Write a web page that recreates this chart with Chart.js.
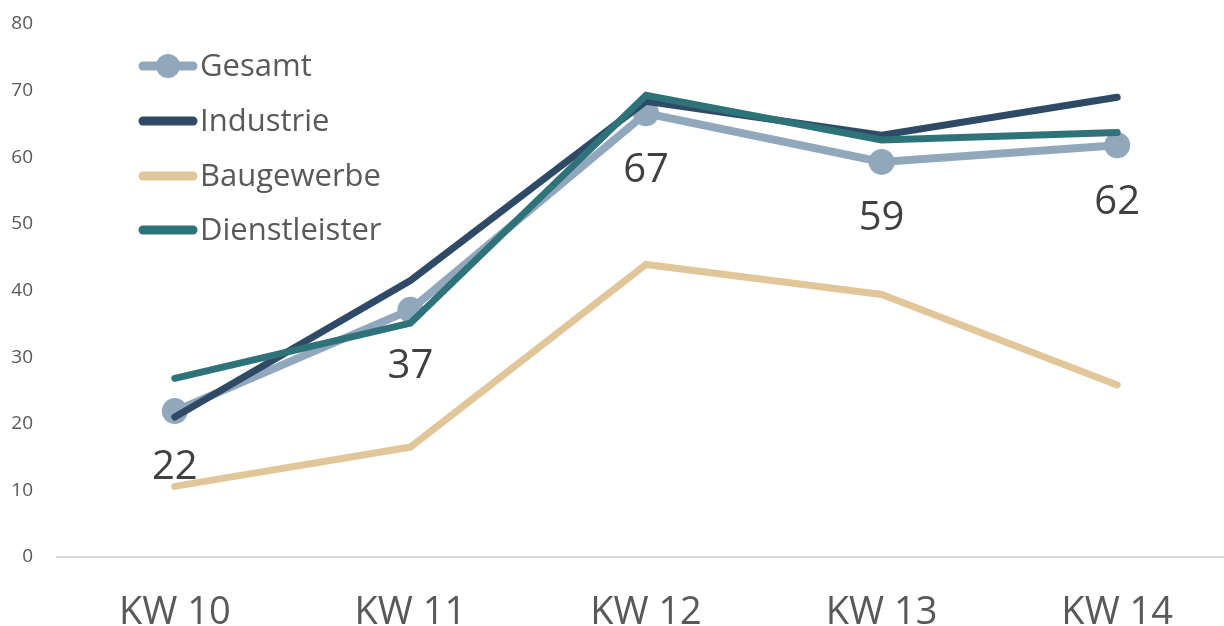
<!DOCTYPE html>
<html>
<head>
<meta charset="utf-8">
<script src="https://cdn.jsdelivr.net/npm/chart.js@4.4.0/dist/chart.umd.min.js"></script>
<style>
html,body{margin:0;padding:0;background:#fff;overflow:hidden;}
#wrap{width:1224px;height:626px;overflow:hidden;}
#c{display:block;}
</style>
</head>
<body>
<div id="wrap"><canvas id="c" width="1235" height="626"></canvas></div>
<script>
const categories = ["KW 10", "KW 11", "KW 12", "KW 13", "KW 14"];
const gesamt = [21.9, 37.1, 66.6, 59.3, 61.8];
const industrie = [21.0, 41.5, 68.4, 63.3, 69.0];
const baugewerbe = [10.6, 16.5, 43.9, 39.4, 25.8];
const dienstleister = [26.8, 35.1, 69.3, 62.6, 63.7];
const yTicks = [0, 10, 20, 30, 40, 50, 60, 70, 80];

const FONT = "'Open Sans', 'Noto Sans', sans-serif";
const colors = {
  gesamt: "#91a7bc",
  industrie: "#2e4a66",
  baugewerbe: "#e0c699",
  dienstleister: "#2f737a"
};

const legendPlugin = {
  id: "customLegend",
  afterDraw(chart) {
    const ctx = chart.ctx;
    const items = [
      { ds: 0, y: 66, marker: true },
      { ds: 1, y: 121 },
      { ds: 2, y: 176 },
      { ds: 3, y: 230 }
    ];
    ctx.save();
    items.forEach(it => {
      const d = chart.data.datasets[it.ds];
      ctx.strokeStyle = d.borderColor;
      ctx.lineWidth = 9;
      ctx.lineCap = "round";
      ctx.beginPath();
      ctx.moveTo(143, it.y);
      ctx.lineTo(193, it.y);
      ctx.stroke();
      if (it.marker) {
        ctx.fillStyle = d.borderColor;
        ctx.beginPath();
        ctx.arc(168, it.y, 12, 0, Math.PI * 2);
        ctx.fill();
      }
      ctx.fillStyle = "#595959";
      ctx.font = "31px " + FONT;
      ctx.textAlign = "left";
      ctx.textBaseline = "middle";
      ctx.fillText(d.label, 200, it.y + 1);
    });
    ctx.restore();
  }
};

const labelPlugin = {
  id: "gesamtLabels",
  afterDatasetsDraw(chart) {
    const ctx = chart.ctx;
    const meta = chart.getDatasetMeta(0);
    ctx.save();
    ctx.fillStyle = "#404040";
    ctx.font = "40px " + FONT;
    ctx.textAlign = "center";
    ctx.textBaseline = "middle";
    meta.data.forEach((pt, i) => {
      ctx.fillText(String(Math.round(gesamt[i])), pt.x, pt.y + 57);
    });
    ctx.restore();
  }
};

new Chart(document.getElementById("c"), {
  type: "line",
  data: {
    labels: categories,
    datasets: [
      { label: "Gesamt", data: gesamt, borderColor: colors.gesamt, backgroundColor: colors.gesamt,
        borderWidth: 8, pointRadius: 13, pointBorderWidth: 0, pointBackgroundColor: colors.gesamt, order: 2 },
      { label: "Industrie", data: industrie, borderColor: colors.industrie, backgroundColor: colors.industrie,
        borderWidth: 7, pointRadius: 0, order: 1 },
      { label: "Baugewerbe", data: baugewerbe, borderColor: colors.baugewerbe, backgroundColor: colors.baugewerbe,
        borderWidth: 7, pointRadius: 0, order: 3 },
      { label: "Dienstleister", data: dienstleister, borderColor: colors.dienstleister, backgroundColor: colors.dienstleister,
        borderWidth: 7, pointRadius: 0, order: 0 }
    ]
  },
  options: {
    responsive: false,
    animation: false,
    events: [],
    elements: { line: { tension: 0, borderCapStyle: "round", borderJoinStyle: "miter" } },
    layout: { autoPadding: false, padding: { top: 24, right: 0, left: 0, bottom: 0 } },
    plugins: { legend: { display: false }, tooltip: { enabled: false } },
    scales: {
      x: {
        offset: true,
        grid: { display: false, drawTicks: false },
        border: { display: true, color: "#d9d9d9", width: 2 },
        ticks: { color: "#595959", font: { family: FONT, size: 38 }, padding: 33, maxRotation: 0 },
        afterFit(scale) { scale.height = 69; scale.paddingLeft = 0; scale.paddingRight = 0; }
      },
      y: {
        min: 0, max: 80,
        afterBuildTicks(scale) { scale.ticks = yTicks.map(v => ({ value: v })); },
        grid: { display: false, drawTicks: false },
        border: { display: false },
        ticks: { color: "#595959", font: { family: FONT, size: 19 }, padding: 24 },
        afterFit(scale) { scale.width = 57; scale.paddingTop = 0; scale.paddingBottom = 0; }
      }
    }
  },
  plugins: [legendPlugin, labelPlugin]
});
</script>
</body>
</html>
